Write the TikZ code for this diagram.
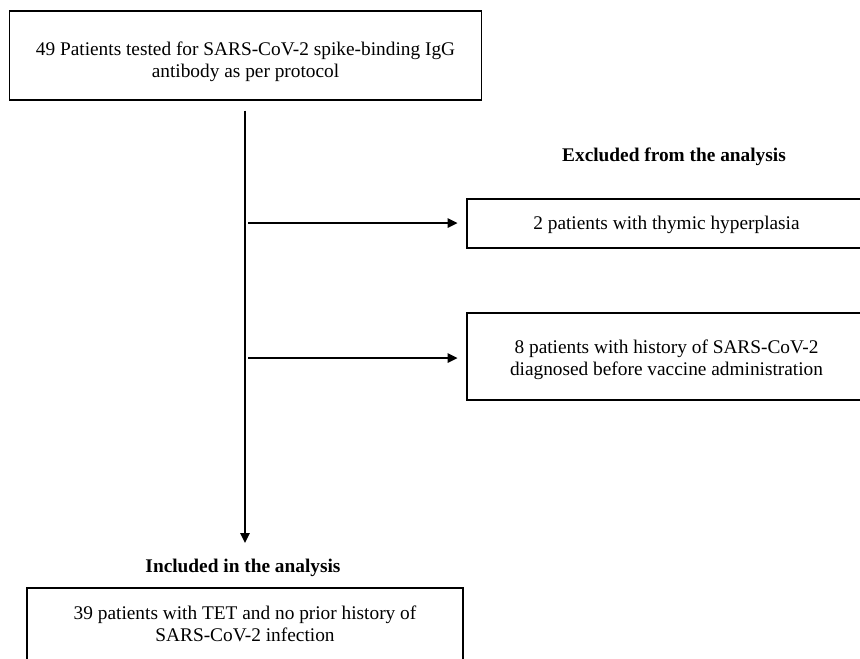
\documentclass[tikz,border=0pt]{standalone}
\usepackage{fontspec}
\setmainfont{Liberation Serif}
\usetikzlibrary{arrows.meta}

\tikzset{every picture/.style={line width=0.75pt}}
\tikzset{
  box/.style={draw, line width=1.1pt, inner sep=0.75pt},
  txt/.style={align=center, inner sep=0.75pt,
    font=\fontsize{14.5}{16.5}\selectfont},
  head/.style={txt, font=\fontsize{14.5}{16.5}\selectfont\bfseries},
  flow/.style={line width=1.4pt, -{Triangle[length=7.5pt,width=7pt]}}
}

\begin{document}
\begin{tikzpicture}[x=0.75pt,y=0.75pt,yscale=-1,xscale=1]
%set diagram to 860 x 658
\clip (0,0) rectangle (860,658);

% Text Node: start
\node [box, minimum width=354pt, minimum height=66.75pt,
  label={[txt, yshift=-4.5pt]center:{49 Patients tested for SARS-CoV-2 spike-binding IgG\\antibody as per protocol}}]
  (tested) at (245.5,55.5) {};

% Text Node: excluded
\node [head] (exclhead) at (674,157) {Excluded from the analysis};
\node [box, minimum width=299.25pt, minimum height=36.75pt,
  label={[txt, yshift=-1pt]center:{2 patients with thymic hyperplasia}}]
  (thymic) at (666.5,223.5) {};
\node [box, minimum width=299.25pt, minimum height=65.25pt,
  label={[txt, yshift=-2.6pt]center:{8 patients with history of SARS-CoV-2\\diagnosed before vaccine administration}}]
  (covid) at (666.5,356.5) {};

% Text Node: included
\node [head] (inclhead) at (243,568) {Included in the analysis};
\node [box, minimum width=327pt, minimum height=54pt,
  label={[txt]center:{39 patients with TET and no prior history of\\SARS-CoV-2 infection}}]
  (included) at (245,624) {};

% Trunk
\coordinate (trunkend) at (245,543);
\coordinate (branchA) at (248,223);
\coordinate (branchB) at (248,358);

\draw [flow, shorten <=7.5pt] (tested.south -| trunkend) -- (trunkend);
\draw [flow, shorten >=6.5pt] (branchA) -- (branchA -| thymic.west);
\draw [flow, shorten >=6.5pt] (branchB) -- (branchB -| covid.west);

\end{tikzpicture}
\end{document}
